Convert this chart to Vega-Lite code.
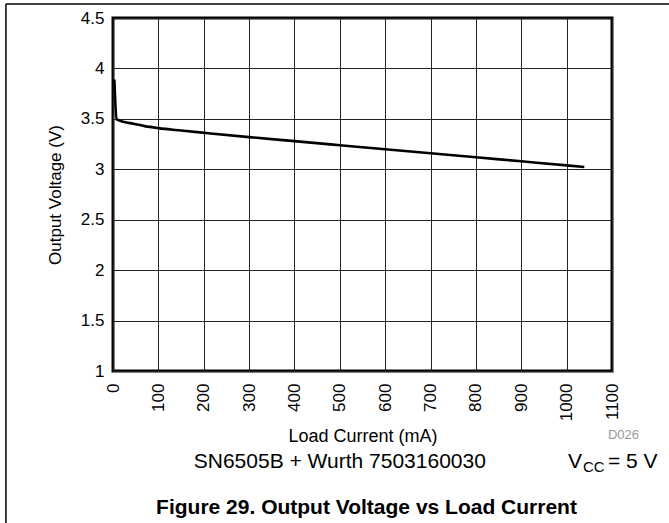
{
  "$schema": "https://vega.github.io/schema/vega-lite/v6.json",
  "width": 499,
  "height": 353,
  "autosize": {"type": "none"},
  "padding": {"left": 113, "top": 18, "right": 57, "bottom": 152},
  "background": "white",
  "config": {
    "font": "Liberation Sans",
    "view": {"stroke": "#000", "strokeWidth": 3},
    "axis": {
      "domain": false,
      "ticks": false,
      "grid": true,
      "gridColor": "#222",
      "gridWidth": 1,
      "gridOpacity": 1,
      "labelColor": "#000",
      "labelFontSize": 17,
      "labelFont": "Liberation Sans",
      "labelOverlap": false,
      "labelFlush": false,
      "labelBound": false,
      "titleColor": "#000",
      "titleFont": "Liberation Sans",
      "titleFontWeight": "normal"
    },
    "text": {"font": "Liberation Sans", "color": "#000"}
  },
  "layer": [
    {
      "data": {"values": [
        {"current": 3, "voltage": 3.89},
        {"current": 8, "voltage": 3.498},
        {"current": 15, "voltage": 3.482},
        {"current": 25, "voltage": 3.468},
        {"current": 45, "voltage": 3.452},
        {"current": 70, "voltage": 3.428},
        {"current": 100, "voltage": 3.408},
        {"current": 150, "voltage": 3.384},
        {"current": 200, "voltage": 3.362},
        {"current": 300, "voltage": 3.319},
        {"current": 400, "voltage": 3.279},
        {"current": 500, "voltage": 3.239},
        {"current": 600, "voltage": 3.199},
        {"current": 700, "voltage": 3.159},
        {"current": 800, "voltage": 3.119},
        {"current": 900, "voltage": 3.079},
        {"current": 1000, "voltage": 3.039},
        {"current": 1039, "voltage": 3.023}
      ]},
      "mark": {"type": "line", "color": "#000", "strokeWidth": 2.6, "interpolate": "monotone"},
      "encoding": {
        "x": {
          "field": "current", "type": "quantitative",
          "scale": {"domain": [0, 1100], "nice": false, "zero": false},
          "axis": {
            "values": [0, 100, 200, 300, 400, 500, 600, 700, 800, 900, 1000, 1100],
            "format": "d",
            "labelAngle": -90,
            "labelPadding": 12,
            "title": "Load Current (mA)",
            "titleFontSize": 18,
            "titleY": 70,
            "titleBaseline": "alphabetic"
          }
        },
        "y": {
          "field": "voltage", "type": "quantitative",
          "scale": {"domain": [1, 4.5], "nice": false, "zero": false},
          "axis": {
            "values": [1, 1.5, 2, 2.5, 3, 3.5, 4, 4.5],
            "format": "~g",
            "labelPadding": 9,
            "title": "Output Voltage (V)",
            "titleFontSize": 17,
            "titleX": -53,
            "titleBaseline": "alphabetic"
          }
        }
      }
    },
    {
      "data": {"values": [{"label": "SN6505B + Wurth 7503160030"}]},
      "mark": {"type": "text", "align": "center", "baseline": "alphabetic", "fontSize": 21, "dy": 97},
      "encoding": {
        "x": {"datum": 500, "type": "quantitative", "scale": {"domain": [0, 1100], "nice": false, "zero": false}},
        "y": {"datum": 1, "type": "quantitative", "scale": {"domain": [1, 4.5], "nice": false, "zero": false}},
        "text": {"field": "label"}
      }
    },
    {
      "data": {"values": [{"label": "V"}]},
      "mark": {"type": "text", "align": "left", "baseline": "alphabetic", "fontSize": 21, "dy": 97},
      "encoding": {
        "x": {"datum": 1003, "type": "quantitative", "scale": {"domain": [0, 1100], "nice": false, "zero": false}},
        "y": {"datum": 1, "type": "quantitative", "scale": {"domain": [1, 4.5], "nice": false, "zero": false}},
        "text": {"field": "label"}
      }
    },
    {
      "data": {"values": [{"label": "CC"}]},
      "mark": {"type": "text", "align": "left", "baseline": "alphabetic", "fontSize": 15, "dy": 101},
      "encoding": {
        "x": {"datum": 1036, "type": "quantitative", "scale": {"domain": [0, 1100], "nice": false, "zero": false}},
        "y": {"datum": 1, "type": "quantitative", "scale": {"domain": [1, 4.5], "nice": false, "zero": false}},
        "text": {"field": "label"}
      }
    },
    {
      "data": {"values": [{"label": "= 5 V"}]},
      "mark": {"type": "text", "align": "left", "baseline": "alphabetic", "fontSize": 21, "dy": 97},
      "encoding": {
        "x": {"datum": 1091, "type": "quantitative", "scale": {"domain": [0, 1100], "nice": false, "zero": false}},
        "y": {"datum": 1, "type": "quantitative", "scale": {"domain": [1, 4.5], "nice": false, "zero": false}},
        "text": {"field": "label"}
      }
    },
    {
      "data": {"values": [{"label": "D026"}]},
      "mark": {"type": "text", "align": "left", "baseline": "alphabetic", "fontSize": 13, "dy": 68, "color": "#999999"},
      "encoding": {
        "x": {"datum": 1091, "type": "quantitative", "scale": {"domain": [0, 1100], "nice": false, "zero": false}},
        "y": {"datum": 1, "type": "quantitative", "scale": {"domain": [1, 4.5], "nice": false, "zero": false}},
        "text": {"field": "label"}
      }
    },
    {
      "data": {"values": [{"label": "Figure 29. Output Voltage vs Load Current"}]},
      "mark": {"type": "text", "align": "left", "baseline": "alphabetic", "fontSize": 21, "fontWeight": "bold", "dy": 143},
      "encoding": {
        "x": {"datum": 95, "type": "quantitative", "scale": {"domain": [0, 1100], "nice": false, "zero": false}},
        "y": {"datum": 1, "type": "quantitative", "scale": {"domain": [1, 4.5], "nice": false, "zero": false}},
        "text": {"field": "label"}
      }
    },
    {
      "data": {"values": [{"edge": "left"}]},
      "mark": {"type": "rule", "color": "#000", "strokeWidth": 1.5},
      "encoding": {
        "x": {"datum": -236, "type": "quantitative", "scale": {"domain": [0, 1100], "nice": false, "zero": false}},
        "y": {"datum": 4.639, "type": "quantitative", "scale": {"domain": [1, 4.5], "nice": false, "zero": false}},
        "y2": {"datum": -0.6}
      }
    },
    {
      "data": {"values": [{"edge": "top"}]},
      "mark": {"type": "rule", "color": "#000", "strokeWidth": 1.5},
      "encoding": {
        "x": {"datum": -236, "type": "quantitative", "scale": {"domain": [0, 1100], "nice": false, "zero": false}},
        "x2": {"datum": 1260},
        "y": {"datum": 4.639, "type": "quantitative", "scale": {"domain": [1, 4.5], "nice": false, "zero": false}}
      }
    }
  ]
}
